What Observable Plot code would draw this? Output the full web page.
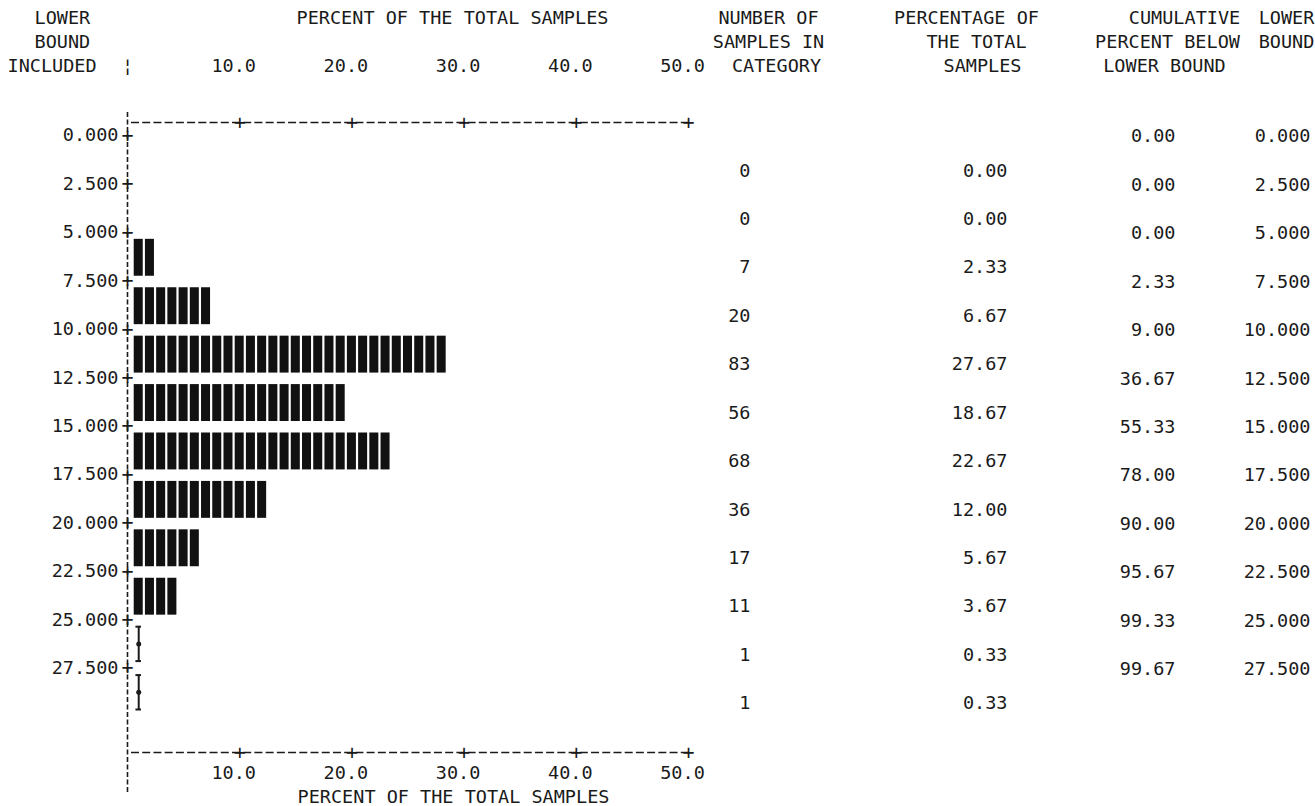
<!DOCTYPE html>
<html>
<head>
<meta charset="utf-8">
<script src="https://cdn.jsdelivr.net/npm/d3@7"></script>
<script src="https://cdn.jsdelivr.net/npm/@observablehq/plot@0.6"></script>
<style>
  html, body { margin: 0; padding: 0; background: #fff; }
  #chart svg { display: block; }
</style>
</head>
<body>
<div id="chart"></div>
<script>
// ---- data ----
const lowerBounds = [0, 2.5, 5, 7.5, 10, 12.5, 15, 17.5, 20, 22.5, 25, 27.5];
const sampleCounts = [0, 0, 7, 20, 83, 56, 68, 36, 17, 11, 1, 1];
const percentOfTotal = [0.00, 0.00, 2.33, 6.67, 27.67, 18.67, 22.67, 12.00, 5.67, 3.67, 0.33, 0.33];
const cumulativeBelow = [0.00, 0.00, 0.00, 2.33, 9.00, 36.67, 55.33, 78.00, 90.00, 95.67, 99.33, 99.67];
const percentTicks = [10, 20, 30, 40, 50];
const binWidth = 2.5;

const axisTitle = "PERCENT OF THE TOTAL SAMPLES";
const leftHeader = ["LOWER", "BOUND", "INCLUDED"];
const countHeader = ["NUMBER OF", "SAMPLES IN", "CATEGORY"];
const pctHeader = ["PERCENTAGE OF", "THE TOTAL", "SAMPLES"];
const cumHeader = ["CUMULATIVE", "PERCENT BELOW", "LOWER BOUND"];
const boundHeader = ["LOWER", "BOUND"];

// ---- derived tables ----
const bins = lowerBounds.map((lo, i) => ({
  lower: lo, upper: lo + binWidth, count: sampleCounts[i],
  pct: percentOfTotal[i], cum: cumulativeBelow[i]
}));
// the printer draws one block per whole percent (rounded)
const blocks = bins.flatMap(b => d3.range(1, Math.round(b.pct) + 1).map(k => ({...b, k})));
// categories below one percent are drawn as an "I"
const small = bins.filter(b => b.pct > 0 && Math.round(b.pct) < 1);

const FONT = "DejaVu Sans Mono";
const FS = 18.5;
const INK = "#1a1a1a";
const T = (data, o) => Plot.text(data, {fontFamily: FONT, fontSize: FS, fill: INK, lineAnchor: "middle", ...o});
// header line offsets relative to the top of the frame
const ROW = [-117, -93, -69];
const hdr = (s, i, cx, anchor = "middle") =>
  T([s], {frameAnchor: "top-left", dx: cx - 127, dy: ROW[i], textAnchor: anchor, text: d => d});

const chart = Plot.plot({
  width: 1315,
  height: 806,
  marginLeft: 127,
  marginRight: 627,
  marginTop: 135,
  marginBottom: 90,
  x: {domain: [0, 50], axis: null},
  y: {domain: [0, 30], reverse: true, axis: null},
  style: {background: "white", fontFamily: FONT},
  marks: [
    // vertical axis (dashed column of bars)
    Plot.ruleX([0], {stroke: INK, strokeWidth: 1.6, strokeDasharray: "5,2.5", insetTop: -23, insetBottom: -76}),
    T(lowerBounds, {y: d => d, frameAnchor: "left", textAnchor: "middle", fontSize: 20, text: () => "+"}),
    T(lowerBounds, {y: d => d, frameAnchor: "left", text: d => d.toFixed(3), textAnchor: "end", dx: -9}),
    T(["¦"], {frameAnchor: "top-left", textAnchor: "middle", dy: ROW[2], text: d => d}),

    // top axis
    Plot.ruleY([0], {stroke: INK, strokeWidth: 1.4, strokeDasharray: "8,3.22", dy: -13, insetLeft: 4}),
    T(percentTicks, {x: d => d, frameAnchor: "top", dy: -13, fontSize: 20, text: () => "+"}),
    T(percentTicks, {x: d => d, frameAnchor: "top", dy: ROW[2], dx: -6, text: d => d.toFixed(1)}),
    hdr(axisTitle, 0, 452),

    // bottom axis
    Plot.ruleY([30], {stroke: INK, strokeWidth: 1.4, strokeDasharray: "8,3.22", dy: 36, insetLeft: 4}),
    T(percentTicks, {x: d => d, frameAnchor: "bottom", dy: 36, fontSize: 20, text: () => "+"}),
    T(percentTicks, {x: d => d, frameAnchor: "bottom", dy: 57, dx: -6, text: d => d.toFixed(1)}),
    T([axisTitle], {frameAnchor: "bottom-left", dx: 453 - 127, dy: 81, textAnchor: "middle", text: d => d}),

    // histogram blocks
    Plot.rect(blocks, {
      x1: d => d.k - 0.5, x2: d => d.k + 0.5,
      y1: d => d.lower, y2: d => d.upper,
      insetLeft: 1.1, insetRight: 1.1, insetTop: 7, insetBottom: 4.5,
      fill: "#111"
    }),
    // "I" markers for categories under one percent
    Plot.ruleX(small, {x: () => 1, y1: d => d.lower, y2: d => d.upper, insetTop: 7, insetBottom: 7, stroke: INK, strokeWidth: 2}),
    Plot.ruleY(small, {y: d => d.lower, x1: () => 0.75, x2: () => 1.25, dy: 7, stroke: INK, strokeWidth: 2}),
    Plot.ruleY(small, {y: d => d.upper, x1: () => 0.75, x2: () => 1.25, dy: -7, stroke: INK, strokeWidth: 2}),
    Plot.dot(small, {x: () => 1, y: d => (d.lower + d.upper) / 2, r: 2.5, fill: INK}),

    // left header
    hdr(leftHeader[0], 0, 34, "start"),
    hdr(leftHeader[1], 1, 34, "start"),
    hdr(leftHeader[2], 2, 7, "start"),

    // table columns
    T(bins, {y: d => (d.lower + d.upper) / 2, frameAnchor: "right", dx: 750 - 688, dy: 11, textAnchor: "end", text: d => String(d.count)}),
    T(bins, {y: d => (d.lower + d.upper) / 2, frameAnchor: "right", dx: 1007 - 688, dy: 11, textAnchor: "end", text: d => d.pct.toFixed(2)}),
    T(bins, {y: "lower", frameAnchor: "right", dx: 1175 - 688, dy: 1, textAnchor: "end", text: d => d.cum.toFixed(2)}),
    T(bins, {y: "lower", frameAnchor: "right", dx: 1310 - 688, dy: 1, textAnchor: "end", text: d => d.lower.toFixed(3)}),

    // table headers
    ...countHeader.map((s, i) => hdr(s, i, [768, 768, 776][i])),
    ...pctHeader.map((s, i) => hdr(s, i, [966, 976, 982][i])),
    ...cumHeader.map((s, i) => hdr(s, i, [1184, 1167, 1164][i])),
    ...boundHeader.map((s, i) => hdr(s, i, 1286))
  ]
});

document.getElementById("chart").appendChild(chart);
</script>
</body>
</html>
